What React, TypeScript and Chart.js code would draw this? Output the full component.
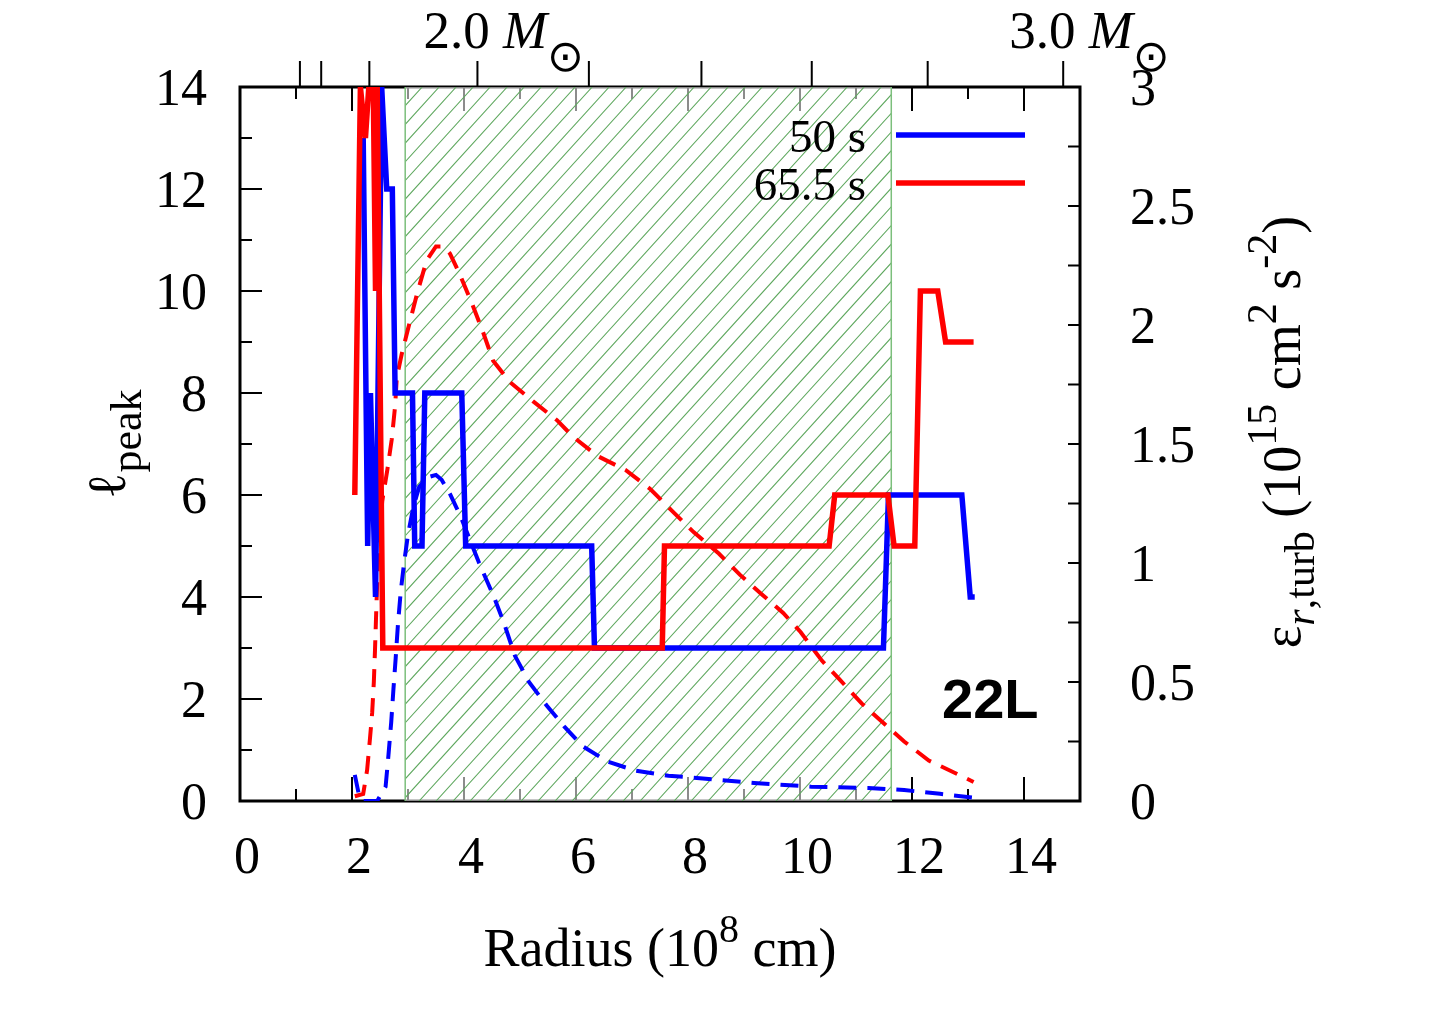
import { useEffect, useRef } from "react";
import { Chart, registerables } from "chart.js";
import type { Plugin } from "chart.js";

Chart.register(...registerables);

// l_peak against radius (10^8 cm), 50 s
const radius50 = [2.2, 2.28, 2.33, 2.42, 2.53, 2.62, 2.72, 2.77, 3.08, 3.12, 3.25, 3.3, 3.96, 4.03, 6.28, 6.33, 11.49, 11.58, 12.89, 13.04, 13.12];
const lpeak50 = [13, 5, 8, 4, 14, 12, 12, 8, 8, 5, 5, 8, 8, 5, 5, 3, 3, 6, 6, 4, 4];

// l_peak, 65.5 s
const radius65 = [2.05, 2.15, 2.24, 2.3, 2.38, 2.42, 2.45, 2.55, 7.54, 7.58, 10.52, 10.62, 11.57, 11.68, 12.05, 12.15, 12.46, 12.6, 13.1];
const lpeak65 = [6, 14, 13, 14, 14, 10, 14, 3, 3, 5, 5, 6, 6, 5, 5, 10, 10, 9, 9];

// eps_r,turb (10^15 cm^2 s^-2), right axis
const epsRadius50 = [2.05, 2.12, 2.18, 2.45, 2.6, 2.65, 2.7, 2.74, 2.78, 2.82, 2.87, 2.93, 3.0, 3.1, 3.2, 3.35, 3.5, 3.6, 3.75, 3.95, 4.27, 4.53, 4.71, 4.91, 5.16, 5.48, 5.8, 6.12, 6.57, 7.07, 7.65, 8.16, 9.18, 10.2, 11.22, 11.86, 12.5, 13.07];
const eps50 = [0.11, 0.03, 0.0, 0.0, 0.06, 0.19, 0.33, 0.47, 0.6, 0.74, 0.88, 1.0, 1.12, 1.24, 1.32, 1.36, 1.37, 1.35, 1.29, 1.19, 1.0, 0.86, 0.75, 0.61, 0.5, 0.4, 0.31, 0.23, 0.165, 0.127, 0.106, 0.097, 0.076, 0.06, 0.055, 0.046, 0.03, 0.015];

const epsRadius65 = [2.05, 2.2, 2.27, 2.32, 2.36, 2.39, 2.41, 2.44, 2.47, 2.54, 2.63, 2.71, 2.77, 2.8, 2.89, 3.04, 3.16, 3.33, 3.5, 3.63, 3.75, 3.93, 4.16, 4.34, 4.52, 4.82, 5.23, 5.66, 5.95, 6.38, 6.89, 7.33, 7.71, 8.1, 8.55, 8.93, 9.31, 9.7, 10.01, 10.39, 10.71, 11.1, 11.48, 11.86, 12.3, 12.75, 13.1];
const eps65 = [0.02, 0.03, 0.13, 0.26, 0.37, 0.5, 0.63, 0.85, 1.05, 1.26, 1.39, 1.52, 1.66, 1.78, 1.88, 2.02, 2.13, 2.27, 2.33, 2.33, 2.3, 2.21, 2.08, 1.97, 1.85, 1.76, 1.68, 1.6, 1.53, 1.45, 1.39, 1.31, 1.22, 1.13, 1.04, 0.95, 0.87, 0.79, 0.71, 0.59, 0.51, 0.41, 0.33, 0.25, 0.17, 0.12, 0.08];

const xTickValues = [0, 2, 4, 6, 8, 10, 12, 14];
const yTickValues = [0, 2, 4, 6, 8, 10, 12, 14];
const y2TickValues = [0, 0.5, 1, 1.5, 2, 2.5, 3];
const y2TickLabels = ["0", "0.5", "1", "1.5", "2", "2.5", "3"];

// enclosed mass (top axis), placed at radius
const massTickRadius = [1.07, 1.45, 2.31, 4.24, 6.23, 8.24, 10.21, 12.28, 14.7];
const massLabelRadius = [4.24, 14.7];
const massLabels = ["2.0", "3.0"];

const shadedRange = [2.95, 11.63];
const seriesNames = ["50 s", "65.5 s"];

const BLUE = "#0000ff";
const RED = "#ff0000";
const SERIF = '"Liberation Serif", "DejaVu Serif", serif';
const SANS = '"Liberation Sans", Arial, sans-serif';

type Run = { t: string; font: string; dy?: number };

function runsWidth(ctx: CanvasRenderingContext2D, runs: Run[]) {
  let w = 0;
  for (const r of runs) {
    ctx.font = r.font;
    w += ctx.measureText(r.t).width;
  }
  return w;
}

function drawRuns(ctx: CanvasRenderingContext2D, runs: Run[], x: number, y: number) {
  let cx = x;
  ctx.textAlign = "left";
  for (const r of runs) {
    ctx.font = r.font;
    ctx.fillText(r.t, cx, y + (r.dy || 0));
    cx += ctx.measureText(r.t).width;
  }
}

const decorations: Plugin<"line"> = {
  id: "decorations",
  beforeDatasetsDraw(chart) {
    const { ctx, chartArea: a, scales } = chart;
    const x = scales.x;
    const y = scales.y;
    const y2 = scales.y2;
    ctx.save();
    ctx.strokeStyle = "#000";
    ctx.lineWidth = 3;
    ctx.strokeRect(a.left, a.top, a.right - a.left, a.bottom - a.top);

    ctx.lineWidth = 2;
    ctx.beginPath();
    for (let v = 1; v < 15; v++) {
      const px = x.getPixelForValue(v);
      const len = v % 2 === 0 ? 24 : 12;
      ctx.moveTo(px, a.bottom);
      ctx.lineTo(px, a.bottom - len);
      ctx.moveTo(px, a.top);
      ctx.lineTo(px, a.top + len);
    }
    for (let v = 1; v < 14; v++) {
      const py = y.getPixelForValue(v);
      const len = v % 2 === 0 ? 22 : 12;
      ctx.moveTo(a.left, py);
      ctx.lineTo(a.left + len, py);
    }
    for (let v = 0.25; v < 3; v += 0.25) {
      const py = y2.getPixelForValue(v);
      ctx.moveTo(a.right, py);
      ctx.lineTo(a.right - 12, py);
    }
    massTickRadius.forEach((r) => {
      const px = x.getPixelForValue(r);
      ctx.moveTo(px, a.top);
      ctx.lineTo(px, a.top - 26);
    });
    ctx.stroke();

    // hatched band
    const x0 = x.getPixelForValue(shadedRange[0]);
    const x1 = x.getPixelForValue(shadedRange[1]);
    ctx.beginPath();
    ctx.rect(x0, a.top, x1 - x0, a.bottom - a.top);
    ctx.clip();
    ctx.fillStyle = "rgba(255,255,255,0.55)";
    ctx.fillRect(x0, a.top - 5, x1 - x0, a.bottom - a.top + 10);
    ctx.strokeStyle = "#5fa85f";
    ctx.lineWidth = 1.1;
    const run = (a.bottom - a.top) / 1.1;
    ctx.beginPath();
    for (let sx = x0 - run; sx < x1 + 17; sx += 17) {
      ctx.moveTo(sx, a.bottom);
      ctx.lineTo(sx + run, a.top);
    }
    ctx.stroke();
    ctx.restore();

    ctx.save();
    ctx.strokeStyle = "#7cbf7c";
    ctx.lineWidth = 1.5;
    ctx.beginPath();
    ctx.moveTo(x0, a.top);
    ctx.lineTo(x0, a.bottom);
    ctx.moveTo(x1, a.top);
    ctx.lineTo(x1, a.bottom);
    ctx.stroke();
    ctx.restore();
  },
  afterDraw(chart) {
    const { ctx, chartArea: a, scales } = chart;
    const x = scales.x;
    const y = scales.y;
    const y2 = scales.y2;
    ctx.save();
    ctx.fillStyle = "#000";
    ctx.textBaseline = "alphabetic";

    ctx.font = `52px ${SERIF}`;
    ctx.textAlign = "center";
    xTickValues.forEach((v) => {
      ctx.fillText(String(v), x.getPixelForValue(v) + 7, a.bottom + 72);
    });
    ctx.textAlign = "right";
    yTickValues.forEach((v) => {
      ctx.fillText(String(v), a.left - 33, y.getPixelForValue(v) + 18);
    });
    ctx.textAlign = "left";
    y2TickValues.forEach((v, i) => {
      ctx.fillText(y2TickLabels[i], a.right + 50, y2.getPixelForValue(v) + 18);
    });

    // top mass labels
    massLabelRadius.forEach((r, i) => {
      const px = x.getPixelForValue(r);
      drawRuns(
        ctx,
        [
          { t: massLabels[i] + " ", font: `53px ${SERIF}` },
          { t: "M", font: `italic 53px ${SERIF}` },
          { t: "⊙", font: `44px "DejaVu Sans", sans-serif`, dy: 23 },
        ],
        px - 54,
        a.top - 39
      );
    });

    // x title
    const xt: Run[] = [
      { t: "Radius (10", font: `54px ${SERIF}` },
      { t: "8", font: `40px ${SERIF}`, dy: -24 },
      { t: " cm)", font: `54px ${SERIF}` },
    ];
    drawRuns(ctx, xt, (a.left + a.right) / 2 - runsWidth(ctx, xt) / 2, a.bottom + 165);

    // left title
    const lt: Run[] = [
      { t: "ℓ", font: `54px ${SERIF}` },
      { t: "peak", font: `44px ${SERIF}`, dy: 16 },
    ];
    ctx.save();
    ctx.translate(125, (a.top + a.bottom) / 2);
    ctx.rotate(-Math.PI / 2);
    drawRuns(ctx, lt, -runsWidth(ctx, lt) / 2, 0);
    ctx.restore();

    // right title
    const rt: Run[] = [
      { t: "ε", font: `54px ${SERIF}` },
      { t: "r", font: `italic 42px ${SERIF}`, dy: 14 },
      { t: ",turb", font: `42px ${SERIF}`, dy: 14 },
      { t: " (10", font: `54px ${SERIF}` },
      { t: "15", font: `42px ${SERIF}`, dy: -24 },
      { t: " cm", font: `54px ${SERIF}` },
      { t: "2", font: `42px ${SERIF}`, dy: -24 },
      { t: " s", font: `54px ${SERIF}` },
      { t: "-2", font: `42px ${SERIF}`, dy: -24 },
      { t: ")", font: `54px ${SERIF}` },
    ];
    ctx.save();
    ctx.translate(1300, 432);
    ctx.rotate(-Math.PI / 2);
    drawRuns(ctx, rt, -runsWidth(ctx, rt) / 2, 0);
    ctx.restore();

    // legend
    const colors = [BLUE, RED];
    seriesNames.forEach((name, i) => {
      ctx.font = `47px ${SERIF}`;
      ctx.textAlign = "right";
      ctx.fillStyle = "#000";
      ctx.fillText(name, a.right - 214, a.top + 65 + i * 48);
      ctx.strokeStyle = colors[i];
      ctx.lineWidth = 5.5;
      ctx.beginPath();
      ctx.moveTo(a.right - 184, a.top + 48 + i * 48);
      ctx.lineTo(a.right - 55, a.top + 48 + i * 48);
      ctx.stroke();
    });

    ctx.font = `bold 56px ${SANS}`;
    ctx.textAlign = "left";
    ctx.fillStyle = "#000";
    ctx.fillText("22L", a.right - 138, a.bottom - 83);
    ctx.restore();
  },
};

function points(xs: number[], ys: number[]) {
  return xs.map((v, i) => ({ x: v, y: ys[i] }));
}

export default function App() {
  const canvasRef = useRef<HTMLCanvasElement>(null);
  const chartRef = useRef<Chart<"line"> | null>(null);

  useEffect(() => {
    document.body.style.margin = "0";
    if (!canvasRef.current) return;
    if (chartRef.current) chartRef.current.destroy();

    chartRef.current = new Chart(canvasRef.current, {
      type: "line",
      data: {
        datasets: [
          {
            label: "65.5 s",
            data: points(radius65, lpeak65),
            yAxisID: "y",
            borderColor: RED,
            borderWidth: 5.5,
            order: 0,
          },
          {
            label: "50 s",
            data: points(radius50, lpeak50),
            yAxisID: "y",
            borderColor: BLUE,
            borderWidth: 5.5,
            order: 1,
          },
          {
            label: "eps 65.5 s",
            data: points(epsRadius65, eps65),
            yAxisID: "y2",
            borderColor: RED,
            borderWidth: 4,
            borderDash: [18, 11],
            order: 2,
          },
          {
            label: "eps 50 s",
            data: points(epsRadius50, eps50),
            yAxisID: "y2",
            borderColor: BLUE,
            borderWidth: 4,
            borderDash: [18, 11],
            order: 3,
          },
        ],
      },
      options: {
        animation: false,
        responsive: false,
        events: [],
        layout: { padding: { left: 240, right: 360, top: 87, bottom: 219 } },
        plugins: { legend: { display: false }, tooltip: { enabled: false } },
        elements: { point: { radius: 0 }, line: { tension: 0, fill: false } },
        scales: {
          x: { type: "linear", min: 0, max: 15, display: false },
          y: { type: "linear", min: 0, max: 14, display: false },
          y2: { type: "linear", min: 0, max: 3, display: false, position: "right" },
        },
      },
      plugins: [decorations],
    });

    return () => {
      chartRef.current?.destroy();
      chartRef.current = null;
    };
  }, []);

  return (
    <div style={{ width: 1440, height: 1020, background: "#fff" }}>
      <canvas ref={canvasRef} width={1440} height={1020} style={{ display: "block" }} />
    </div>
  );
}
